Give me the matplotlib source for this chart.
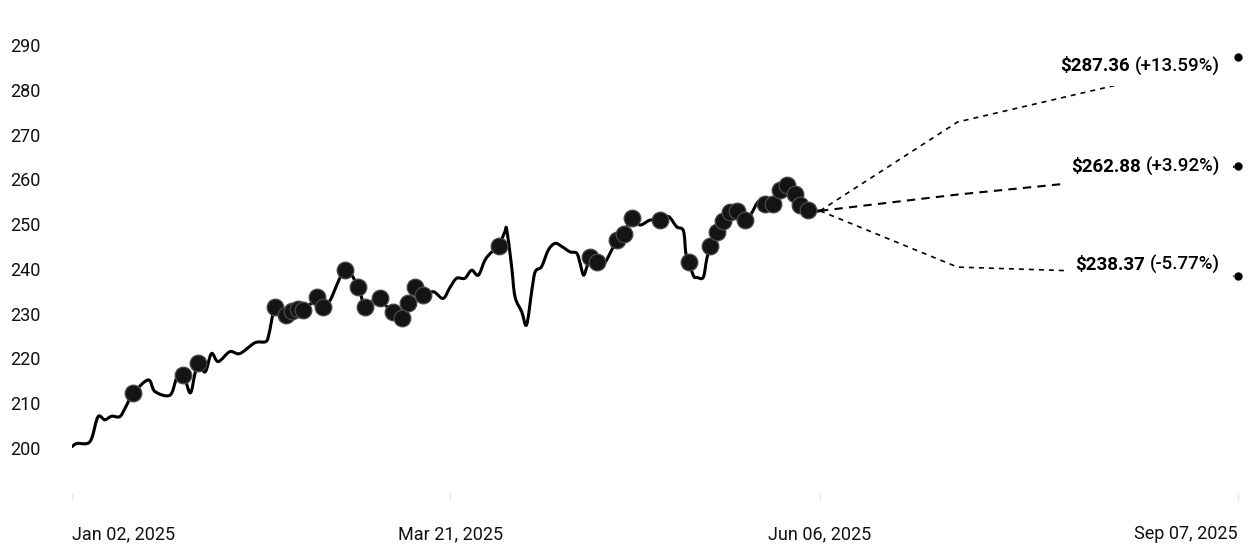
import matplotlib
matplotlib.use("Agg")
import matplotlib.pyplot as plt
from matplotlib.path import Path
from matplotlib.patches import PathPatch, Rectangle

plt.rcParams['font.family'] = ['Roboto', 'DejaVu Sans']

# ---- data (x = days since Jan 02, 2025) ----
hist_day = [0, 1.0, 3.1, 4.1, 5.4, 6.8, 8.2, 9.9, 11.0, 12.7, 15.8, 17.2, 20.3, 21.7, 23.1,
            24.5, 25.5, 26.2, 27.6, 28.9, 30.3, 32.7, 34.8, 37.9, 40.0, 40.7, 42.1, 43.5,
            44.4, 45.6, 46.8, 47.9, 49.3, 50.7, 52.1, 53.5, 56.6, 59.3, 60.7, 62.8, 63.8,
            65.3, 66.6, 68.3, 69.7, 71.1, 72.8, 74.9, 76.9, 78.3, 79.7, 81.4, 82.8, 84.2,
            85.6, 87.0, 88.4, 89.7, 90.1, 91.1, 91.8, 93.2, 94.2, 95.3, 96.0, 97.3, 98.7,
            100.1, 101.5, 103.2, 104.6, 105.3, 106.0, 106.7, 107.3, 108.7, 110.1, 112.2,
            112.9, 114.3, 116.0, 117.7, 119.8, 121.9, 123.6, 125.3, 126.7, 127.2, 127.8,
            128.8, 129.5, 130.8, 131.5, 132.2, 133.6, 135.0, 136.4, 137.9, 139.5, 140.8,
            142.2, 143.6, 145.3, 146.7, 148.1, 149.8, 150.9, 152.6, 153.8, 155.0]
hist_price = [200.3, 201.0, 201.0, 202.2, 207.0, 206.3, 207.1, 207.0, 208.9, 212.2, 215.2,
              212.6, 211.8, 215.6, 216.3, 212.3, 216.7, 218.9, 217.0, 221.1, 219.3, 221.5,
              221.1, 223.5, 223.7, 224.9, 231.6, 229.2, 229.6, 230.6, 231.0, 230.9, 232.0,
              233.8, 231.6, 233.0, 239.7, 236.0, 231.6, 233.3, 233.4, 231.5, 230.4, 229.0,
              232.3, 236.0, 234.2, 234.9, 233.4, 235.8, 237.9, 237.9, 239.7, 238.6, 242.0,
              243.8, 245.0, 248.3, 248.7, 240.5, 233.8, 230.4, 227.5, 235.3, 239.4, 240.5,
              244.2, 245.7, 245.0, 243.8, 243.5, 241.2, 238.6, 240.5, 242.7, 241.6, 240.9,
              245.0, 246.4, 247.9, 251.3, 249.8, 250.9, 250.9, 251.7, 249.4, 248.5, 243.5,
              241.6, 238.4, 238.1, 238.1, 242.0, 245.0, 248.2, 250.7, 252.8, 252.9, 250.9,
              252.4, 255.0, 254.6, 254.6, 257.6, 258.7, 256.8, 254.2, 253.1, 252.9, 252.97]

signal_day = [12.7, 23.1, 26.2, 42.1, 44.4, 45.6, 46.8, 47.9, 50.7, 52.1, 56.6, 59.3, 60.7,
              63.8, 66.6, 68.3, 69.7, 71.1, 72.8, 88.4, 107.3, 108.7, 112.9, 114.3, 116.0,
              121.9, 127.8, 132.2, 133.6, 135.0, 136.4, 137.9, 139.5, 143.6, 145.3, 146.7,
              148.1, 149.8, 150.9, 152.6]
signal_price = [212.2, 216.3, 218.9, 231.6, 229.6, 230.6, 231.0, 230.9, 233.8, 231.6, 239.7,
                236.0, 231.6, 233.4, 230.4, 229.0, 232.3, 236.0, 234.2, 245.0, 242.7, 241.6,
                246.4, 247.9, 251.3, 250.9, 241.6, 245.0, 248.2, 250.7, 252.8, 252.9, 250.9,
                254.6, 254.6, 257.6, 258.7, 256.8, 254.2, 253.1]

last_price = 252.97
forecast_day = [155.0, 183.5, 241.6]
forecast_high = [last_price, 272.8, 287.36]
forecast_mid = [last_price, 256.6, 262.88]
forecast_low = [last_price, 240.4, 238.37]
forecast_labels = [("$287.36", "(+13.59%)"), ("$262.88", "(+3.92%)"), ("$238.37", "(-5.77%)")]
label_price = [285.2, 262.8, 240.9]

xtick_day = [0, 78.4, 155.0, 241.6]
xtick_labels = ["Jan 02, 2025", "Mar 21, 2025", "Jun 06, 2025", "Sep 07, 2025"]
ytick_values = [200, 210, 220, 230, 240, 250, 260, 270, 280, 290]

# ---- figure ----
W, H = 1252, 546
fig = plt.figure(figsize=(W / 100, H / 100), dpi=100)
ax = fig.add_axes([72 / W, (H - 493) / H, 1173 / W, 463 / H])
ax.set_xlim(0, 243.07)
ax.set_ylim(189.95, 293.35)

for s in ax.spines.values():
    s.set_visible(False)


def smooth_path(xs, ys):
    """Cardinal-spline rendering of the polyline through the given points."""
    verts = [(xs[0], ys[0])]
    codes = [Path.MOVETO]
    n = len(xs)
    for i in range(n - 1):
        x0, y0 = (xs[i - 1], ys[i - 1]) if i > 0 else (xs[i], ys[i])
        x1, y1 = xs[i], ys[i]
        x2, y2 = xs[i + 1], ys[i + 1]
        x3, y3 = (xs[i + 2], ys[i + 2]) if i + 2 < n else (x2, y2)
        c1 = (x1 + (x2 - x0) / 6.0, y1 + (y2 - y0) / 6.0)
        c2 = (x2 - (x3 - x1) / 6.0, y2 - (y3 - y1) / 6.0)
        verts += [c1, c2, (x2, y2)]
        codes += [Path.CURVE4] * 3
    return Path(verts, codes)


ax.add_patch(PathPatch(smooth_path(hist_day, hist_price), facecolor='none',
                       edgecolor='black', lw=2.2, joinstyle='round', capstyle='round',
                       zorder=3))
ax.plot(signal_day, signal_price, linestyle='none', marker='o', markersize=12,
        markerfacecolor='#141414', markeredgecolor='#4a4a4a', markeredgewidth=0.9,
        zorder=4)

ax.plot(forecast_day, forecast_high, color='black', lw=1.2, dashes=(3, 3), zorder=2)
ax.plot(forecast_day, forecast_mid, color='black', lw=1.5, dashes=(4, 3), zorder=2)
ax.plot(forecast_day, forecast_low, color='black', lw=1.2, dashes=(3, 3), zorder=2)

ends = [forecast_high[-1], forecast_mid[-1], forecast_low[-1]]
ax.plot([forecast_day[-1]] * 3, ends, linestyle='none', marker='o', markersize=5,
        color='black', zorder=7, clip_on=False)

fig.canvas.draw()
inv = ax.transData.inverted()
for (bold, rest), yp in zip(forecast_labels, label_price):
    t2 = ax.text(237.9, yp, rest, ha='right', va='center', fontsize=13.5, color='black',
                 fontweight='medium', zorder=6)
    fig.canvas.draw()
    bb2 = t2.get_window_extent()
    x_left = inv.transform((bb2.x0 - 5, bb2.y0))[0]
    t1 = ax.text(x_left, yp, bold, ha='right', va='center', fontsize=13.5,
                 fontweight='bold', color='black', zorder=6)
    fig.canvas.draw()
    bb1 = t1.get_window_extent()
    (dx0, dy0) = inv.transform((bb1.x0 - 8, min(bb1.y0, bb2.y0) - 10))
    (dx1, dy1) = inv.transform((bb2.x1 + 13, max(bb1.y1, bb2.y1) + 8))
    ax.add_patch(Rectangle((dx0, dy0), dx1 - dx0, dy1 - dy0, facecolor='white',
                           edgecolor='none', zorder=5, clip_on=False))

ax.set_yticks(ytick_values)
ax.set_yticklabels([str(v) for v in ytick_values])
ax.tick_params(axis='y', length=0, pad=44.6, labelsize=13, labelcolor='#111111')
for lab in ax.get_yticklabels():
    lab.set_horizontalalignment('left')

ax.set_xticks(xtick_day)
ax.set_xticklabels(xtick_labels)
ax.tick_params(axis='x', length=5, color='#e6e6e6', width=1, pad=18, labelsize=13,
               labelcolor='#111111')
xl = ax.get_xticklabels()
xl[0].set_horizontalalignment('left')
xl[-1].set_horizontalalignment('right')

fig.savefig('out.png', dpi=100, facecolor='white')
